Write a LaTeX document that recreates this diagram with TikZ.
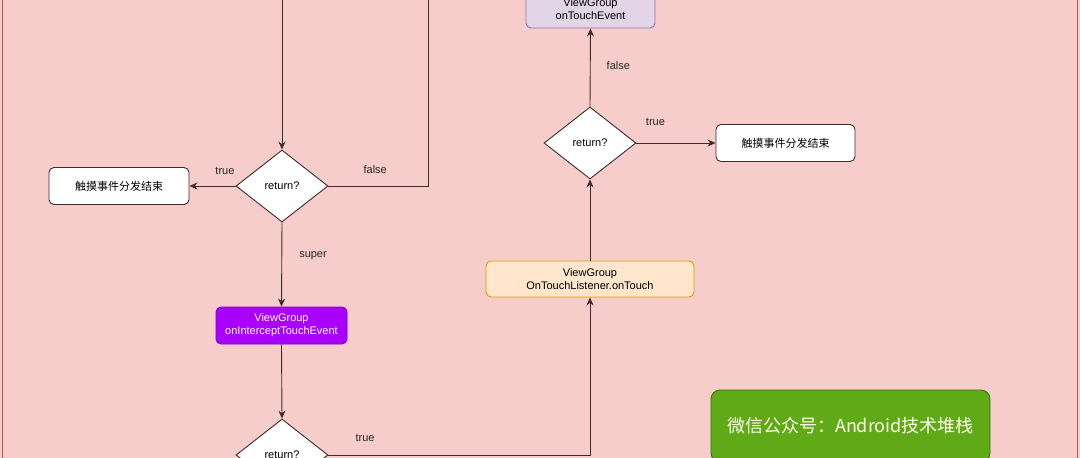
\documentclass[tikz,border=0pt]{standalone}
\usepackage{fontspec}
\setmainfont{Liberation Sans}
\newfontfamily\cjk{Noto Sans CJK SC}
\usepackage{xcolor}
\usetikzlibrary{shapes.geometric,arrows.meta}

\definecolor{bgpink}{HTML}{F6CDCB}
\definecolor{bgline}{HTML}{B85450}
\definecolor{flowline}{HTML}{3D2B2B}
\definecolor{interfill}{HTML}{AA00FF}
\definecolor{interline}{HTML}{7700CC}
\definecolor{listenfill}{HTML}{FFE6CC}
\definecolor{listenline}{HTML}{D79B00}
\definecolor{touchfill}{HTML}{E1D5E7}
\definecolor{touchline}{HTML}{9673A6}
\definecolor{wxfill}{HTML}{60A917}
\definecolor{wxline}{HTML}{2D7600}

\begin{document}
\begin{tikzpicture}[x=1pt, y=-1pt, line width=0.9pt,
	>={Stealth[length=8pt,width=7pt]},
	decision/.style={diamond, draw=flowline, fill=white, minimum width=92pt, minimum height=72pt, inner sep=0pt, font=\fontsize{11}{13}\selectfont},
	flowbox/.style={rectangle, rounded corners=5pt, minimum height=37pt, inner sep=0pt, align=center, font=\fontsize{11}{13}\selectfont},
	edgetext/.style={font=\fontsize{11}{13}\selectfont, text=black!85, inner sep=0pt}]
	\useasboundingbox (0,0) rectangle (1080,458);
	\clip (0,0) rectangle (1080,458);
	\fill[bgpink] (0,0) rectangle (1080,458);
	\draw[bgline] (2,-10) -- (2,470);
	\draw[bgline] (1077,-10) -- (1077,470);

	\node[decision] (ret1) at (282,186) {return?};
	\node[flowbox, draw=flowline, fill=white, minimum width=140pt, font=\cjk\fontsize{11}{13}\selectfont] (end1) at (119,186) {触摸事件分发结束};
	\node[flowbox, draw=interline, fill=interfill, text=white, minimum width=131pt] (intercept) at (281.5,325.5) {ViewGroup\\onInterceptTouchEvent};
	\node[decision] (ret2) at (282,455) {return?};
	\node[flowbox, draw=listenline, fill=listenfill, minimum width=208pt, minimum height=36pt] (listener) at (590,279) {ViewGroup\\OnTouchListener.onTouch};
	\node[decision] (ret3) at (590,143) {return?};
	\node[flowbox, draw=flowline, fill=white, minimum width=139pt, font=\cjk\fontsize{11}{13}\selectfont] (end2) at (785.5,143) {触摸事件分发结束};
	\node[flowbox, draw=touchline, fill=touchfill, minimum width=129pt] (touch) at (590.5,9.5) {ViewGroup\\onTouchEvent};
	\node[flowbox, draw=wxline, fill=wxfill, text=white!94!yellow, rounded corners=9pt, minimum width=279pt, minimum height=72pt, font=\cjk\fontsize{18}{22}\selectfont] (wechat) at (850.5,426) {微信公众号：Android技术堆栈};

	\coordinate (in1) at (282,-20);
	\coordinate (back1) at (428,-20);

	\draw[->, flowline] (in1) -- (ret1.north);
	\draw[flowline] (ret1.east) -| (back1) node[edgetext, pos=0.235, above=12pt] (lfalse1) {false};
	\draw[->, flowline] (ret1.west) -- (end1.east) node[edgetext, pos=0.23, above=11pt] (ltrue1) {true};
	\draw[->, flowline] (ret1.south) -- (intercept.north) node[edgetext, pos=0.4, right=17pt] (lsuper) {super};
	\draw[->, flowline] (intercept.south) -- (ret2.north);
	\draw[->, flowline] (ret2.east) -| (listener.south) node[edgetext, pos=0.07, above=13pt] (ltrue2) {true};
	\draw[->, flowline] (listener.north) -- (ret3.south);
	\draw[->, flowline] (ret3.east) -- (end2.west) node[edgetext, pos=0.24, above=17pt] (ltrue3) {true};
	\draw[->, flowline] (ret3.north) -- (touch.south) node[edgetext, pos=0.53, right=16pt] (lfalse2) {false};
\end{tikzpicture}
\end{document}
